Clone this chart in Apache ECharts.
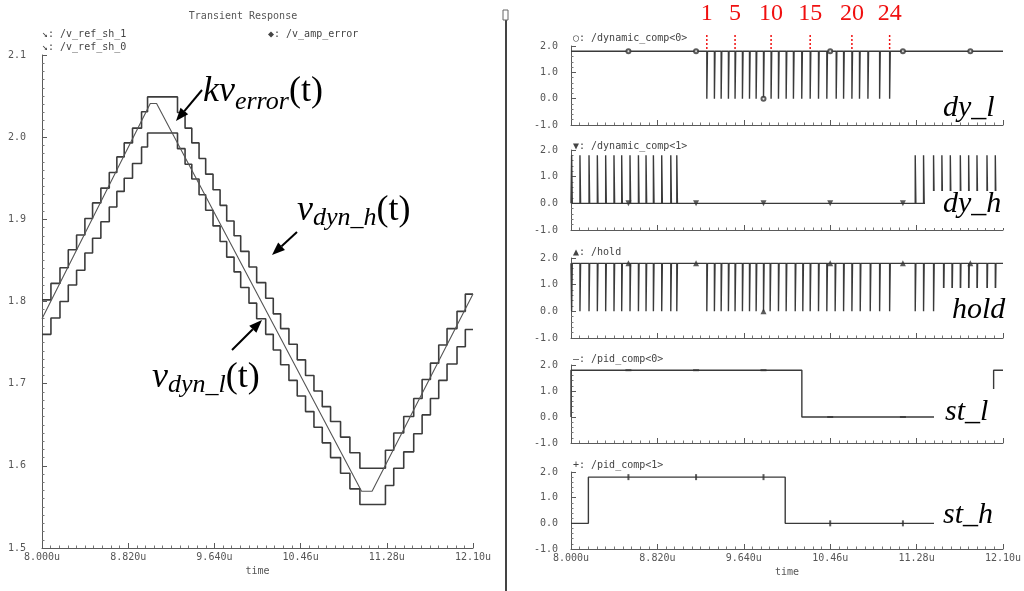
<!DOCTYPE html>
<html><head><meta charset="utf-8">
<script src="https://cdn.jsdelivr.net/npm/echarts@6/dist/echarts.min.js"></script>
<style>html,body{margin:0;padding:0;background:#fff}#c{width:1024px;height:591px}</style>
</head><body><div id="c"></div>
<script>
// ---------- data (time in microseconds) ----------
const T0 = 8.0;               // time-axis origin
const T_END = 12.1;
const xTickLabels = ['8.000u', '8.820u', '9.640u', '10.46u', '11.28u', '12.10u'];
const leftYTickLabels = ['1.5', '1.6', '1.7', '1.8', '1.9', '2.0', '2.1'];
const rightYTickLabels = ['-1.0', '0.0', '1.0', '2.0'];

// /v_amp_error (k*v_error)
const kvErrorT = [8.0, 9.03, 9.09, 11.04, 11.14, 12.10];
const kvErrorV = [1.779, 2.041, 2.041, 1.569, 1.569, 1.809];

// /hold pulse times
const holdPulseT = [8.006, 8.085, 8.171, 8.250, 8.329, 8.408, 8.481, 8.560, 8.640, 8.712, 8.782, 8.861, 8.947, 9.004,
  9.289, 9.361, 9.425, 9.494, 9.557, 9.627, 9.694, 9.757, 9.827, 9.890, 9.969, 10.042, 10.128, 10.200, 10.270, 10.349,
  10.428, 10.507, 10.587, 10.666, 10.745, 10.840, 10.929, 11.024,
  11.267, 11.346, 11.441, 11.536, 11.616, 11.695, 11.774, 11.853, 11.948, 12.027];

// sampled references (held levels, one per hold interval, starting at 8.0u)
const refSh1V = [1.802,
  1.822, 1.841, 1.863, 1.881, 1.901, 1.920, 1.938, 1.957, 1.976, 1.993, 2.011, 2.031, 2.049,
  2.030, 2.011, 1.993, 1.974, 1.955, 1.936, 1.917, 1.898, 1.880, 1.861, 1.842, 1.823, 1.804, 1.785, 1.767, 1.748,
  1.729, 1.710, 1.691, 1.672, 1.654, 1.635, 1.616, 1.597,
  1.619, 1.640, 1.660, 1.682, 1.705, 1.725, 1.747, 1.767, 1.788, 1.809];
const refSh0V = [1.760,
  1.780, 1.800, 1.820, 1.838, 1.859, 1.877, 1.897, 1.915, 1.934, 1.950, 1.968, 1.988, 2.005,
  1.986, 1.967, 1.949, 1.930, 1.911, 1.892, 1.873, 1.854, 1.836, 1.817, 1.798, 1.779, 1.760, 1.741, 1.723, 1.704,
  1.685, 1.666, 1.647, 1.628, 1.610, 1.591, 1.572, 1.553,
  1.576, 1.597, 1.617, 1.639, 1.662, 1.682, 1.704, 1.724, 1.745, 1.766];

// /dynamic_comp<0> low pulses, /dynamic_comp<1> high pulses
const dylPulseT = [9.289, 9.361, 9.425, 9.494, 9.557, 9.627, 9.694, 9.757, 9.827, 9.899, 9.969, 10.042,
  10.111, 10.190, 10.270, 10.349, 10.428, 10.517, 10.587, 10.666, 10.738, 10.818, 10.929, 11.024];
const dyhPulseT = [8.006, 8.085, 8.171, 8.250, 8.329, 8.408, 8.481, 8.560, 8.640, 8.712, 8.782, 8.861, 8.947, 9.004,
  11.267, 11.346, 11.441, 11.520, 11.600, 11.695, 11.774, 11.853, 11.948, 12.027];
const logicHigh = 1.8, logicLow = 0.0;

// /pid_comp<0>, /pid_comp<1> edges and levels
const pid0EdgeT = [8.0, 8.0, 10.191, 12.011];
const pid0V = [0.0, 1.8, 0.0, 1.8];
const pid1EdgeT = [8.0, 8.165, 10.033];
const pid1V = [0.0, 1.8, 0.0];

// waveform marker positions
const markerT = [8.545, 9.187, 9.827, 10.460, 11.150, 11.790];
const dylMarkV = [1.8, 1.8, 0.0, 1.8, 1.8, 1.8];
const dyhMarkV = [0.0, 0.0, 0.0, 0.0, 0.0];
const holdMarkV = [1.8, 1.8, 0.0, 1.8, 1.8, 1.8];
const pid0MarkV = [1.8, 1.8, 1.8, 0.0, 0.0];
const pid1MarkV = [1.8, 1.8, 1.8, 0.0, 0.0];

// numbered dy_l pulses
const redLabelIdx = [1, 5, 10, 15, 20, 24];

// ---------- build ----------
const PW = 0.006; // pulse width (u)
function stepData(edges, levels) {
  const d = edges.map((t, i) => [t - T0, levels[i]]);
  d.push([T_END - T0, levels[levels.length - 1]]);
  return d;
}
function pulseData(times, base, peak) {
  const d = [[0, base]];
  times.forEach(t => { const x = t - T0; d.push([x, base], [x, peak], [x + PW, peak], [x + PW, base]); });
  d.push([T_END - T0, base]);
  return d;
}
function markData(vals) { return vals.map((v, i) => [markerT[i] - T0, v]); }

const stairT = [T0].concat(holdPulseT.slice(1));
const MONO = "'DejaVu Sans Mono', monospace";
const SERIF = "'Liberation Serif', 'DejaVu Serif', serif";
const AX = '#5a5a5a';
const WAVE = '#3a3a3a';

const grids = [
  {left: 42, top: 55, width: 431, height: 493},
  {left: 571, top: 46, width: 432, height: 79},
  {left: 571, top: 150, width: 432, height: 80},
  {left: 571, top: 258, width: 432, height: 80},
  {left: 571, top: 365, width: 432, height: 78},
  {left: 571, top: 472, width: 432, height: 77}
];
grids.forEach(g => { g.outerBoundsMode = 'none'; g.containLabel = false; });

const xAxes = grids.map((g, i) => {
  const lab = (i === 0 || i === 5);
  return {
    type: 'value', gridIndex: i, min: 0, max: T_END - T0, interval: 0.82,
    axisLine: {show: true, onZero: false, lineStyle: {color: AX, width: 1}},
    axisTick: {show: true, inside: true, length: 5, lineStyle: {color: AX}},
    minorTick: {show: true, splitNumber: 10, length: 2.5, lineStyle: {color: '#777'}},
    splitLine: {show: false}, minorSplitLine: {show: false},
    axisLabel: {show: lab, margin: 4, fontFamily: MONO, fontSize: 10, color: '#555',
      formatter: v => xTickLabels[Math.round(v / 0.82)] || ''},
    name: lab ? 'time' : '', nameLocation: 'middle', nameGap: 18,
    nameTextStyle: {fontFamily: MONO, fontSize: 10, color: '#555'}
  };
});
const yAxes = grids.map((g, i) => {
  const left = i === 0;
  return {
    type: 'value', gridIndex: i,
    min: left ? 1.5 : -1, max: left ? 2.1 : 2, interval: left ? 0.1 : 1,
    axisLine: {show: true, onZero: false, lineStyle: {color: AX, width: 1}},
    axisTick: {show: true, inside: true, length: 5, lineStyle: {color: AX}},
    minorTick: {show: true, splitNumber: left ? 10 : 5, length: 2.5, lineStyle: {color: '#777'}},
    splitLine: {show: false}, minorSplitLine: {show: false},
    axisLabel: {margin: left ? 16 : 13, fontFamily: MONO, fontSize: 10, color: '#555',
      formatter: v => left ? leftYTickLabels[Math.round((v - 1.5) / 0.1)] : rightYTickLabels[Math.round(v + 1)]}
  };
});

function lineS(i, data, width, color, step) {
  return {type: 'line', xAxisIndex: i, yAxisIndex: i, data: data, step: step || false,
    showSymbol: false, symbol: 'none', lineStyle: {color: color || WAVE, width: width}, z: 3, silent: true};
}
function markS(i, data, symbol, size, rotate) {
  return {type: 'scatter', xAxisIndex: i, yAxisIndex: i, data: data, symbol: symbol, symbolSize: size,
    symbolRotate: rotate || 0, z: 4, silent: true,
    itemStyle: {color: '#333', borderWidth: 0}};
}

const series = [
  lineS(0, stepData(stairT, refSh1V), 1.6, '#3c3c3c', 'end'),
  lineS(0, stepData(stairT, refSh0V), 1.6, '#3c3c3c', 'end'),
  lineS(0, kvErrorT.map((t, i) => [t - T0, kvErrorV[i]]), 1.1, '#555'),
  lineS(1, pulseData(dylPulseT, logicHigh, logicLow), 1.4),
  markS(1, markData(dylMarkV), 'emptyCircle', 4),
  lineS(2, pulseData(dyhPulseT, logicLow, logicHigh), 1.4),
  markS(2, markData(dyhMarkV), 'triangle', 6, 180),
  lineS(3, pulseData(holdPulseT, logicHigh, logicLow), 1.4),
  markS(3, markData(holdMarkV), 'triangle', 6, 0),
  lineS(4, stepData(pid0EdgeT, pid0V), 1.4, WAVE, 'end'),
  markS(4, markData(pid0MarkV), 'rect', [6, 2], 0),
  lineS(5, stepData(pid1EdgeT, pid1V), 1.4, WAVE, 'end'),
  markS(5, markData(pid1MarkV), 'rect', [2, 6], 0)
];

const chart = echarts.init(document.getElementById('c'), null, {renderer: 'canvas', width: 1024, height: 591});
chart.setOption({animation: false, backgroundColor: '#fff', grid: grids, xAxis: xAxes, yAxis: yAxes, series: series});

// ---------- annotations ----------
const cv = document.createElement('canvas').getContext('2d');
function tw(font, s) { cv.font = font; return cv.measureText(s).width; }
const G = [];
function text(x, y, s, font, fill, align, z) {
  G.push({type: 'text', x: x, y: y, z: z || 100, silent: true,
    style: {text: s, font: font, fill: fill, align: align || 'left', textAlign: align || 'left',
      verticalAlign: 'middle', textVerticalAlign: 'middle'}});
}
// runs: [text, size, italic, baselineShift]
function runs(x, baseline, list) {
  let cx = x;
  list.forEach(r => {
    const font = (r[2] ? 'italic ' : '') + r[1] + 'px ' + SERIF;
    text(cx, baseline + r[3] - 0.34 * r[1], r[0], font, '#000');
    cx += tw(font, r[0]);
  });
}
function arrow(x1, y1, x2, y2) {
  const a = Math.atan2(y2 - y1, x2 - x1), L = 13, Wd = 5;
  const bx = x2 - L * Math.cos(a), by = y2 - L * Math.sin(a);
  const nx = -Math.sin(a) * Wd, ny = Math.cos(a) * Wd;
  G.push({type: 'line', z: 100, silent: true, shape: {x1: x1, y1: y1, x2: bx, y2: by}, style: {stroke: '#000', lineWidth: 2}});
  G.push({type: 'polygon', z: 100, silent: true, shape: {points: [[x2, y2], [bx + nx, by + ny], [bx - nx, by - ny]]}, style: {fill: '#000'}});
}
function wbox(x, y, w, h) {
  G.push({type: 'rect', z: 90, silent: true, shape: {x: x, y: y, width: w, height: h}, style: {fill: '#fff'}});
}
const SMALL = '10px ' + MONO;
// left window
text(243, 16, 'Transient Response', SMALL, '#555', 'center');
text(42, 34, '\u2198: /v_ref_sh_1', SMALL, '#444');
text(42, 47, '\u2198: /v_ref_sh_0', SMALL, '#444');
text(268, 34, '\u25C6: /v_amp_error', SMALL, '#444');
G.push({type: 'line', z: 100, silent: true, shape: {x1: 506, y1: 20, x2: 506, y2: 591}, style: {stroke: '#444', lineWidth: 2}});
G.push({type: 'rect', z: 100, silent: true, shape: {x: 503, y: 10, width: 5, height: 10}, style: {fill: 'none', stroke: '#666', lineWidth: 1}});

runs(203, 104, [['kv', 36, true, 0], ['error', 26, true, 7], ['(t)', 36, false, 0]]);
arrow(202, 90, 176, 121);
runs(297, 223, [['v', 36, true, 0], ['dyn_h', 26, true, 4], ['(t)', 36, false, 0]]);
arrow(297, 232, 272, 255);
runs(152, 390, [['v', 36, true, 0], ['dyn_l', 26, true, 4], ['(t)', 36, false, 0]]);
arrow(232, 350, 262, 320);

// right window titles
text(573, 38, '\u25CB: /dynamic_comp<0>', SMALL, '#444');
text(573, 146, '\u25BC: /dynamic_comp<1>', SMALL, '#444');
text(573, 252, '\u25B2: /hold', SMALL, '#444');
text(573, 359, '\u2013: /pid_comp<0>', SMALL, '#444');
text(573, 465, '+: /pid_comp<1>', SMALL, '#444');

// signal labels with white boxes
wbox(925, 191, 85, 37); wbox(937, 288, 73, 38); wbox(934, 389, 61, 43); wbox(934, 504, 76, 32);
runs(943, 118, [['dy_l', 30, true, 0]]);
runs(943, 214, [['dy_h', 30, true, 0]]);
runs(952, 320, [['hold', 30, true, 0]]);
runs(945, 422, [['st_l', 30, true, 0]]);
runs(943, 525, [['st_h', 30, true, 0]]);

// red pulse numbering
redLabelIdx.forEach(n => {
  const px = chart.convertToPixel({xAxisIndex: 1}, dylPulseT[n - 1] - T0);
  text(px, 14, String(n), '24px ' + SERIF, '#f01010', 'center');
  G.push({type: 'line', z: 100, silent: true, shape: {x1: px, y1: 35, x2: px, y2: 50},
    style: {stroke: '#f01010', lineWidth: 1.5, lineDash: [2, 2]}});
});

chart.setOption({graphic: {elements: G}});
</script>
</body></html>
